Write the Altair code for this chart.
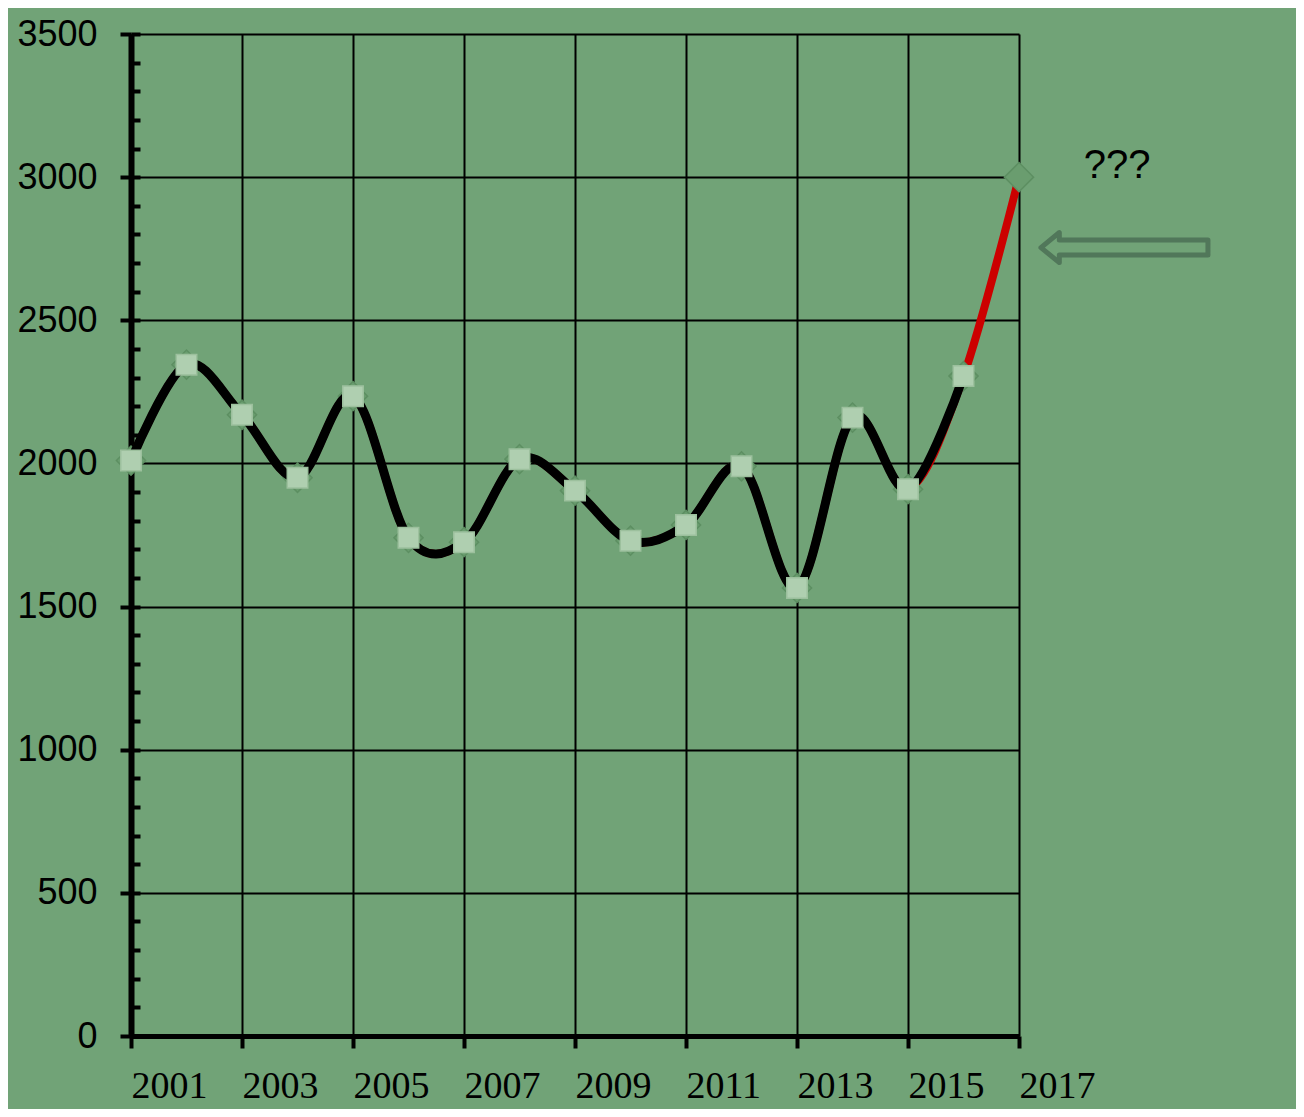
import altair as alt
import pandas as pd

# ---- data ----
years = list(range(2001, 2017))
values = [2010, 2345, 2170, 1950, 2235, 1740, 1725, 2015, 1905, 1730, 1785, 1990, 1565, 2160, 1910, 2305]
forecast_year = 2017
forecast_value = 3000
x_ticks = list(range(2001, 2018, 2))
y_ticks = list(range(0, 3501, 500))
y_minor = list(range(0, 3501, 100))
note_text = ["???"]
note_x = [2018.77]
note_y = [3039]
arrow_x = [2018.9]
arrow_y = [2754]

actual = pd.DataFrame({"year": years, "value": values})
full = pd.DataFrame({"year": years + [forecast_year], "value": values + [forecast_value]})
note_df = pd.DataFrame({"x": note_x, "y": note_y, "t": note_text})
arrow_df = pd.DataFrame({"x": arrow_x, "y": arrow_y})

BG = "#71a377"
xs = alt.Scale(domain=[2001, 2017], nice=False, zero=False)
ys = alt.Scale(domain=[0, 3500], nice=False, zero=False)

x_axis = alt.Axis(
    values=x_ticks, format="d", title=None,
    grid=True, gridColor="black", gridWidth=2, gridOpacity=1,
    domainColor="black", domainWidth=5,
    tickColor="black", tickWidth=4, tickSize=12,
    labelAlign="left", labelBaseline="alphabetic", labelPadding=49,
    labelFont="Liberation Serif", labelFontSize=38, labelColor="black",
    labelFlush=False, labelOverlap=False,
)
y_axis = alt.Axis(
    values=y_ticks, format="d", title=None, orient="left",
    grid=True, gridColor="black", gridWidth=2, gridOpacity=1,
    domainColor="black", domainWidth=6,
    tickColor="black", tickWidth=4, tickSize=11,
    labelPadding=23, labelFont="Liberation Sans", labelFontSize=36,
    labelColor="black", labelFlush=False, labelOverlap=False,
)
y_minor_axis = alt.Axis(
    values=y_minor, title=None, orient="left", offset=-9,
    labels=False, domain=False, grid=False,
    tickColor="black", tickWidth=4, tickSize=9,
)

X = lambda ax=None: alt.X("year:Q", scale=xs, axis=ax)
Y = lambda ax=None: alt.Y("value:Q", scale=ys, axis=ax)

red = alt.Chart(full).mark_line(interpolate="cardinal", color="#cc0000", strokeWidth=8).encode(
    x=X(x_axis), y=Y(y_axis)
)
minor = alt.Chart(full).mark_point(opacity=0).encode(x=X(), y=Y(y_minor_axis))
diamonds = alt.Chart(full).mark_point(
    shape="diamond", size=850, filled=True, fill="#6a9d6f", stroke="#5d8f62",
    strokeWidth=1.5, opacity=1
).encode(x=X(), y=Y())
black = alt.Chart(actual).mark_line(interpolate="cardinal", color="black", strokeWidth=9).encode(
    x=X(), y=Y()
)
squares = alt.Chart(actual).mark_point(
    shape="square", size=420, filled=True, fill="#afcfb0", stroke="#9cc09d",
    strokeWidth=1.5, opacity=1
).encode(x=X(), y=Y())

note = alt.Chart(note_df).mark_text(
    font="Liberation Sans", fontSize=40, color="black", align="center", baseline="middle"
).encode(
    x=alt.X("x:Q", scale=xs, axis=None), y=alt.Y("y:Q", scale=ys, axis=None), text="t:N"
)
arrow_shape = "M -1 0 L -0.78 -0.18 L -0.78 -0.09 L 1 -0.09 L 1 0.09 L -0.78 0.09 L -0.78 0.18 Z"
arrow = alt.Chart(arrow_df).mark_point(
    shape=arrow_shape, size=27889, filled=False, stroke="#51775a", strokeWidth=5,
    strokeJoin="round", opacity=1
).encode(
    x=alt.X("x:Q", scale=xs, axis=None), y=alt.Y("y:Q", scale=ys, axis=None)
)

chart = (
    alt.layer(red, minor, diamonds, black, squares, note, arrow)
    .resolve_axis(y="independent", x="independent")
    .properties(
        width=888, height=1002,
        padding={"left": 123, "top": 26, "right": 277, "bottom": 73},
        autosize=alt.AutoSizeParams(type="none"),
        background=BG,
    )
    .configure_view(stroke=None)
)

chart.save("out.html", embed_options={"renderer": "svg", "actions": False})
